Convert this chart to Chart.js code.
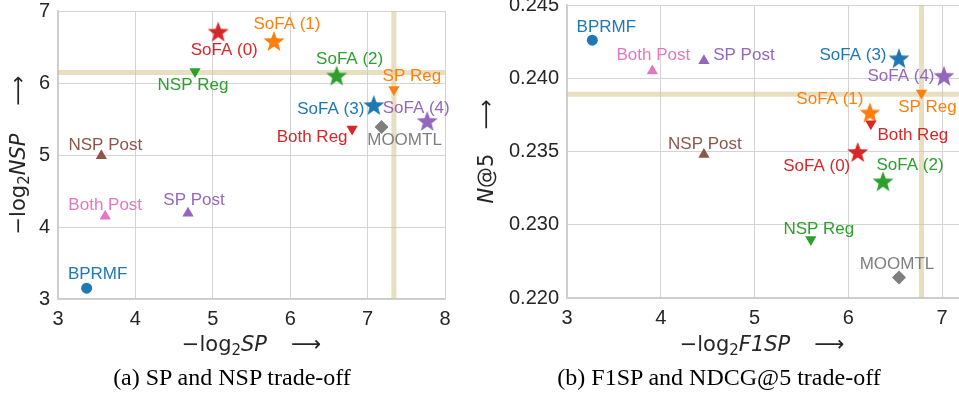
<!DOCTYPE html>
<html>
<head>
<meta charset="utf-8">
<script src="https://cdn.jsdelivr.net/npm/chart.js@4.4.0/dist/chart.umd.min.js"></script>
<style>
html, body { margin: 0; padding: 0; background: #fff; overflow: hidden; width: 959px; height: 400px; }
#wrapA { position: absolute; left: 0; top: -20px; width: 470px; height: 420px; }
#wrapB { position: absolute; left: 470px; top: -20px; width: 500px; height: 420px; }
.cap { position: absolute; top: 364px; font-family: "Liberation Serif", serif; font-size: 24px; line-height: 27px; color: #000; white-space: nowrap; transform: translateX(-50%); }
</style>
</head>
<body>
<div id="wrapA"><canvas id="chartA" width="470" height="420"></canvas></div>
<div id="wrapB"><canvas id="chartB" width="500" height="420"></canvas></div>
<div class="cap" style="left:232px">(a) SP and NSP trade-off</div>
<div class="cap" style="left:719px">(b) F1SP and NDCG@5 trade-off</div>
<script>
// methods shown in both panels
const methods = ['BPRMF', 'Both Post', 'SP Post', 'NSP Post', 'NSP Reg', 'SP Reg', 'Both Reg', 'MOOMTL',
                 'SoFA (0)', 'SoFA (1)', 'SoFA (2)', 'SoFA (3)', 'SoFA (4)'];

// (a) SP and NSP trade-off
const spA  = [3.37, 3.61, 4.68, 3.56, 4.77, 7.34, 6.80, 7.18, 5.07, 5.79, 6.60, 7.08, 7.77];
const nspA = [3.15, 4.15, 4.19, 4.99, 6.16, 5.91, 5.36, 5.39, 6.70, 6.57, 6.09, 5.68, 5.46];
const xTicksA = [3, 4, 5, 6, 7, 8];
const yTicksA = [3, 4, 5, 6, 7];
const refXA = 7.34;
const refYA = 6.145;

// (b) F1SP and NDCG@5 trade-off
const f1spB = [3.27, 3.91, 4.46, 4.46, 5.60, 6.78, 6.24, 6.54, 6.10, 6.23, 6.37, 6.54, 7.02];
const ndcgB = [0.2426, 0.2405, 0.2412, 0.2348, 0.2290, 0.2390, 0.2369, 0.2264, 0.2349, 0.2376, 0.2329, 0.2413, 0.2401];
const xTicksB = [3, 4, 5, 6, 7];
const yTicksB = [0.225, 0.230, 0.235, 0.240, 0.245];
const yTickLabelsB = ['0.220', '0.230', '0.235', '0.240', '0.245'];
const refXB = 6.78;
const refYB = 0.2389;

// styles
const colors = ['#1f77b4', '#e377c2', '#9467bd', '#8c564b', '#2ca02c', '#ff7f0e', '#d62728', '#7f7f7f',
                '#d62728', '#ff7f0e', '#2ca02c', '#1f77b4', '#9467bd'];
const markers = ['circle', 'up', 'up', 'up', 'down', 'down', 'down', 'diamond',
                 'star', 'star', 'star', 'star', 'star'];
const refColor = 'rgba(214,196,140,0.55)';
const textColor = '#262626';

// label offsets (px) from each marker
const labelOffA = {
    'BPRMF': [11, -14], 'Both Post': [0, -11], 'SP Post': [6, -13], 'NSP Post': [4, -10],
    'NSP Reg': [-2, 14], 'SoFA (0)': [6, 18], 'SoFA (1)': [13, -18], 'SoFA (2)': [13, -17],
    'SP Reg': [18, -13], 'SoFA (3)': [-43, 3], 'SoFA (4)': [-11, -14], 'MOOMTL': [23, 13],
    'Both Reg': [-40, 8]
};
const labelOffB = {
    'BPRMF': [14, -13], 'Both Post': [1, -16], 'SP Post': [40, -5], 'NSP Post': [1, -10],
    'SoFA (3)': [-46, -4], 'SoFA (4)': [-43, 0], 'SP Reg': [6, 14], 'SoFA (1)': [-40, -14],
    'Both Reg': [42, 12], 'SoFA (0)': [-41, 13], 'SoFA (2)': [27, -17], 'NSP Reg': [8, -10],
    'MOOMTL': [-2, -13]
};

function makeStar(color, R) {
    const c = document.createElement('canvas');
    const s = Math.ceil(R * 2 + 2);
    c.width = s; c.height = s;
    const ctx = c.getContext('2d');
    ctx.translate(s / 2, s / 2);
    ctx.beginPath();
    for (let i = 0; i < 10; i++) {
        const r = i % 2 === 0 ? R : R * 0.42;
        const a = -Math.PI / 2 + i * Math.PI / 5;
        ctx.lineTo(r * Math.cos(a), r * Math.sin(a));
    }
    ctx.closePath();
    ctx.fillStyle = color;
    ctx.fill();
    return c;
}

function buildDatasets(xs, ys, refX, refY, xMin, xMax, yMin, yMax) {
    const ds = methods.map((m, i) => {
        const d = {
            label: m,
            data: [{x: xs[i], y: ys[i]}],
            backgroundColor: colors[i],
            borderColor: colors[i],
            borderWidth: 0,
            clip: false
        };
        const mk = markers[i];
        if (mk === 'star') {
            d.pointStyle = makeStar(colors[i], 11);
            d.pointRadius = 11;
        } else if (mk === 'up') {
            d.pointStyle = 'triangle';
            d.pointRadius = 6.5;
        } else if (mk === 'down') {
            d.pointStyle = 'triangle';
            d.pointRotation = 180;
            d.pointRadius = 6.5;
        } else if (mk === 'diamond') {
            d.pointStyle = 'rectRot';
            d.pointRadius = 7;
        } else {
            d.pointStyle = 'circle';
            d.pointRadius = 5.5;
        }
        return d;
    });
    ds.push({
        label: 'refH', data: [{x: xMin, y: refY}, {x: xMax, y: refY}],
        showLine: true, borderColor: refColor, borderWidth: 5, pointRadius: 0, clip: false, order: 10
    });
    ds.push({
        label: 'refV', data: [{x: refX, y: yMin}, {x: refX, y: yMax}],
        showLine: true, borderColor: refColor, borderWidth: 5, pointRadius: 0, clip: false, order: 10
    });
    return ds;
}

const pointLabels = {
    id: 'pointLabels',
    afterDatasetsDraw(chart, args, opts) {
        const ctx = chart.ctx;
        ctx.save();
        ctx.font = '17px "Liberation Sans"';
        ctx.textAlign = 'center';
        ctx.textBaseline = 'middle';
        chart.data.datasets.forEach((ds, i) => {
            const off = opts.offsets[ds.label];
            if (!off) return;
            const pt = chart.getDatasetMeta(i).data[0];
            ctx.fillStyle = ds.backgroundColor;
            ctx.fillText(ds.label, pt.x + off[0], pt.y + off[1]);
        });
        ctx.restore();
    }
};

// draws a mathtext-like title: parts are [text, kind], kind n / i / sub / gap
function drawParts(ctx, parts, size) {
    const fam = '"DejaVu Sans"';
    const fontOf = k => k === 'i' ? 'italic ' + size + 'px ' + fam
        : k === 'sub' ? Math.round(size * 0.7) + 'px ' + fam : size + 'px ' + fam;
    let w = 0;
    parts.forEach(p => {
        if (p[1] === 'gap') { w += p[0]; return; }
        ctx.font = fontOf(p[1]);
        w += ctx.measureText(p[0]).width;
    });
    let x = -w / 2;
    const base = size * 0.36;
    parts.forEach(p => {
        if (p[1] === 'gap') { x += p[0]; return; }
        ctx.font = fontOf(p[1]);
        ctx.fillText(p[0], x, p[1] === 'sub' ? base + size * 0.2 : base);
        x += ctx.measureText(p[0]).width;
    });
}

const axisTitles = {
    id: 'axisTitles',
    afterDraw(chart, args, opts) {
        const ctx = chart.ctx;
        const a = chart.chartArea;
        ctx.save();
        ctx.fillStyle = textColor;
        ctx.textAlign = 'left';
        ctx.textBaseline = 'alphabetic';
        ctx.save();
        ctx.translate(opts.xX !== undefined ? opts.xX : (a.left + a.right) / 2, a.bottom + opts.xGap);
        drawParts(ctx, opts.x, 21);
        ctx.restore();
        ctx.save();
        ctx.translate(opts.yX, (a.top + a.bottom) / 2);
        ctx.rotate(-Math.PI / 2);
        drawParts(ctx, opts.y, 21);
        ctx.restore();
        ctx.restore();
    }
};

function scaleOpts(min, max, ticks, labels, fitKey, fitVal) {
    return {
        type: 'linear',
        min: min,
        max: max,
        afterBuildTicks: s => { s.ticks = ticks.map(v => ({value: v})); },
        afterFit: s => {
            s[fitKey] = fitVal;
            s.paddingLeft = 0; s.paddingRight = 0; s.paddingTop = 0; s.paddingBottom = 0;
        },
        grid: {color: '#d4d4d4', lineWidth: 1, drawTicks: false},
        border: {display: true, color: '#cccccc', width: 1.5},
        ticks: {
            padding: 8,
            color: textColor,
            font: {family: 'Liberation Sans', size: 20},
            callback: (v, i) => labels ? labels[i] : String(v)
        }
    };
}

function makeChart(id, xs, ys, refX, refY, xr, yr, xTicks, yTicks, yLabels, pad, yW, xH, offsets, titles) {
    return new Chart(document.getElementById(id), {
        type: 'scatter',
        data: {datasets: buildDatasets(xs, ys, refX, refY, xr[0], xr[1], yr[0], yr[1])},
        options: {
            responsive: false,
            animation: false,
            events: [],
            layout: {padding: pad},
            scales: {
                x: scaleOpts(xr[0], xr[1], xTicks, null, 'height', xH),
                y: scaleOpts(yr[0], yr[1], yTicks, yLabels, 'width', yW)
            },
            plugins: {
                legend: {display: false},
                tooltip: {enabled: false},
                pointLabels: {offsets: offsets},
                axisTitles: titles
            }
        },
        plugins: [pointLabels, axisTitles]
    });
}

makeChart('chartA', spA, nspA, refXA, refYA, [3, 8], [3, 7], xTicksA, yTicksA, null,
    {top: 31, right: 25, left: 0, bottom: 0}, 58, 101, labelOffA,
    {
        x: [['\u2212log', 'n'], ['2', 'sub'], ['SP', 'i'], [24, 'gap'], ['\u27f6', 'n']],
        y: [['\u2212log', 'n'], ['2', 'sub'], ['NSP', 'i'], [28, 'gap'], ['\u27f6', 'n']],
        xGap: 44, yX: 17
    });

makeChart('chartB', f1spB, ndcgB, refXB, refYB, [3, 7.18], [0.225, 0.245], xTicksB, yTicksB, yTickLabelsB,
    {top: 25, right: 0, left: 0, bottom: 0}, 97, 102, labelOffB,
    {
        x: [['\u2212log', 'n'], ['2', 'sub'], ['F1SP', 'i'], [24, 'gap'], ['\u27f6', 'n']],
        y: [['N', 'i'], ['@5', 'n'], [24, 'gap'], ['\u27f6', 'n']],
        xGap: 45, xX: 292, yX: 15
    });
</script>
</body>
</html>
